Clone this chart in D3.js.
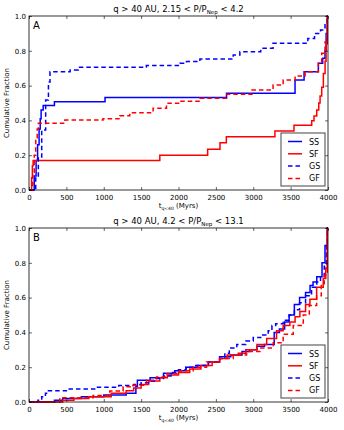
<!DOCTYPE html>
<html>
<head>
<meta charset="utf-8">
<script src="https://cdn.jsdelivr.net/npm/d3@7"></script>
<style>
  body { margin: 0; background: #fff; }
  svg text { font-family: "DejaVu Sans", sans-serif; }
</style>
</head>
<body>
<svg id="chart" width="344" height="430"></svg>
<script>
// tick labels
var xTicks = [0, 500, 1000, 1500, 2000, 2500, 3000, 3500, 4000];
var yTicks = [0, 0.2, 0.4, 0.6, 0.8, 1.0];
var seriesNames = ["SS", "SF", "GS", "GF"];
var panelLetters = ["A", "B"];
var panelTitles = [["q > 40 AU, 2.15 < P/P", "Nep", " < 4.2"],
                   ["q > 40 AU, 4.2 < P/P", "Nep", " < 13.1"]];

// panel A (times in Myr, cumulative fraction)
var tSS_A = [0, 45, 70, 95, 115, 135, 150, 162, 190, 340, 1017, 2643, 3559, 3680, 3871, 3929, 3960, 3975, 3990, 4000];
var fSS_A = [0, 0, 0.08, 0.17, 0.26, 0.35, 0.41, 0.46, 0.485, 0.507, 0.532, 0.556, 0.632, 0.68, 0.728, 0.757, 0.8, 0.9, 1.0, 1.0];
var tSF_A = [0, 25, 35, 45, 55, 1750, 2390, 2555, 2640, 3290, 3545, 3782, 3813, 3849, 3876, 3894, 3916, 3938, 3961, 3974, 3992, 4000];
var fSF_A = [0, 0, 0.07, 0.14, 0.17, 0.2, 0.234, 0.272, 0.306, 0.339, 0.372, 0.398, 0.425, 0.46, 0.5, 0.54, 0.59, 0.67, 0.74, 0.84, 1.0, 1.0];
var tGS_A = [0, 60, 90, 125, 170, 223, 260, 281, 550, 660, 1570, 2018, 2107, 2286, 2732, 2821, 3100, 3265, 3730, 3820, 3900, 3960, 3990, 4000];
var fGS_A = [0, 0, 0.08, 0.19, 0.345, 0.517, 0.62, 0.68, 0.69, 0.705, 0.715, 0.728, 0.738, 0.753, 0.776, 0.795, 0.814, 0.843, 0.87, 0.9, 0.92, 0.95, 1.0, 1.0];
var tGF_A = [0, 30, 50, 70, 90, 110, 125, 480, 990, 1214, 1348, 1660, 1839, 2018, 2286, 2643, 2983, 3265, 3400, 3560, 3693, 3871, 3916, 3960, 3990, 4000];
var fGF_A = [0, 0, 0.1, 0.2, 0.3, 0.35, 0.383, 0.402, 0.41, 0.427, 0.444, 0.47, 0.498, 0.51, 0.527, 0.55, 0.575, 0.603, 0.632, 0.655, 0.68, 0.728, 0.786, 0.85, 1.0, 1.0];

// panel B
var tSS_B = [0, 300, 340, 450, 700, 1000, 1300, 1430, 1450, 1620, 1800, 1950, 2100, 2250, 2400, 2550, 2700, 2850, 2950, 3050, 3150, 3280, 3350, 3420, 3480, 3550, 3620, 3700, 3760, 3800, 3850, 3920, 3960, 3990, 4000];
var fSS_B = [0, 0, 0.01, 0.02, 0.03, 0.04, 0.05, 0.09, 0.125, 0.14, 0.165, 0.18, 0.2, 0.21, 0.23, 0.26, 0.27, 0.29, 0.3, 0.32, 0.33, 0.4, 0.42, 0.46, 0.5, 0.56, 0.6, 0.63, 0.67, 0.69, 0.72, 0.8, 0.9, 1.0, 1.0];
var tSF_B = [0, 400, 450, 600, 800, 1100, 1300, 1400, 1500, 1600, 1750, 1850, 2000, 2150, 2300, 2450, 2550, 2650, 2800, 2900, 3050, 3180, 3312, 3400, 3490, 3560, 3624, 3700, 3758, 3848, 3936, 3970, 3990, 4000];
var fSF_B = [0, 0, 0.01, 0.02, 0.03, 0.05, 0.065, 0.08, 0.1, 0.12, 0.14, 0.155, 0.17, 0.19, 0.21, 0.23, 0.25, 0.27, 0.28, 0.3, 0.33, 0.365, 0.41, 0.44, 0.46, 0.49, 0.52, 0.56, 0.59, 0.66, 0.71, 0.77, 1.0, 1.0];
var tGS_B = [0, 80, 120, 170, 220, 260, 500, 900, 1200, 1400, 1500, 1600, 1700, 1800, 1900, 2000, 2100, 2200, 2400, 2550, 2620, 2680, 2780, 2900, 3000, 3100, 3200, 3250, 3300, 3400, 3480, 3550, 3620, 3700, 3780, 3850, 3900, 3950, 3980, 3995, 4000];
var fGS_B = [0, 0, 0.01, 0.03, 0.05, 0.065, 0.075, 0.085, 0.095, 0.1, 0.11, 0.12, 0.135, 0.15, 0.17, 0.185, 0.2, 0.21, 0.23, 0.25, 0.28, 0.31, 0.33, 0.35, 0.37, 0.385, 0.41, 0.44, 0.45, 0.47, 0.5, 0.53, 0.57, 0.61, 0.66, 0.69, 0.72, 0.78, 0.9, 1.0, 1.0];
var tGF_B = [0, 350, 411, 857, 1080, 1259, 1393, 1571, 1705, 1839, 2018, 2196, 2375, 2553, 2732, 2911, 3089, 3268, 3400, 3535, 3669, 3750, 3848, 3910, 3950, 3990, 4000];
var fGF_B = [0, 0, 0.025, 0.038, 0.063, 0.087, 0.096, 0.125, 0.144, 0.163, 0.18, 0.2, 0.23, 0.25, 0.27, 0.29, 0.31, 0.34, 0.39, 0.44, 0.5, 0.555, 0.61, 0.68, 0.73, 1.0, 1.0];

var panelData = [
  [[tSS_A, fSS_A], [tSF_A, fSF_A], [tGS_A, fGS_A], [tGF_A, fGF_A]],
  [[tSS_B, fSS_B], [tSF_B, fSF_B], [tGS_B, fGS_B], [tGF_B, fGF_B]]
];

var colors = ["#0000ff", "#ff0000", "#0000ff", "#ff0000"];
var dashes = [null, null, "4.5,3", "4.5,3"];

var svg = d3.select("#chart");
var left = 29, right = 328;
var panelTops = [16, 228], panelH = 174;

var x = d3.scaleLinear().domain([0, 4000]).range([left, right]);

panelData.forEach(function(series, p) {
  var top = panelTops[p], bottom = top + panelH;
  var y = d3.scaleLinear().domain([0, 1]).range([bottom, top]);
  var g = svg.append("g");

  g.append("clipPath").attr("id", "clip" + p)
    .append("rect").attr("x", left).attr("y", top - 1)
    .attr("width", right - left).attr("height", panelH + 2);

  // curves
  var line = d3.line()
    .x(function(d) { return x(d[0]); })
    .y(function(d) { return y(d[1]); })
    .curve(d3.curveStepAfter);

  series.forEach(function(s, i) {
    var pts = s[0].map(function(t, k) { return [t, s[1][k]]; });
    g.append("path")
      .attr("d", line(pts))
      .attr("clip-path", "url(#clip" + p + ")")
      .attr("fill", "none")
      .attr("stroke", colors[i])
      .attr("stroke-width", 1.5)
      .attr("stroke-dasharray", dashes[i]);
  });

  // axes, ticks pointing in
  var xb = g.append("g").attr("transform", "translate(0," + bottom + ")")
    .call(d3.axisBottom(x).tickValues(xTicks).tickFormat(d3.format("d"))
      .tickSizeInner(-3).tickSizeOuter(0).tickPadding(5));
  var xt = g.append("g").attr("transform", "translate(0," + top + ")")
    .call(d3.axisTop(x).tickValues(xTicks).tickFormat("")
      .tickSizeInner(-3).tickSizeOuter(0));
  var yl = g.append("g").attr("transform", "translate(" + left + ",0)")
    .call(d3.axisLeft(y).tickValues(yTicks).tickFormat(d3.format(".1f"))
      .tickSizeInner(-3).tickSizeOuter(0).tickPadding(3));
  var yr = g.append("g").attr("transform", "translate(" + right + ",0)")
    .call(d3.axisRight(y).tickValues(yTicks).tickFormat("")
      .tickSizeInner(-3).tickSizeOuter(0));
  [xb, xt, yl, yr].forEach(function(a) {
    a.select(".domain").remove();
    a.selectAll("text").attr("font-size", 7).attr("fill", "#000")
      .style("font-family", "'DejaVu Sans', sans-serif");
    a.selectAll("line").attr("stroke", "#000").attr("stroke-width", 0.6);
  });

  g.append("rect")
    .attr("x", left).attr("y", top)
    .attr("width", right - left).attr("height", panelH)
    .attr("fill", "none").attr("stroke", "#000").attr("stroke-width", 0.8);

  // panel letter
  g.append("text").attr("x", left + 4).attr("y", top + 13)
    .attr("font-size", 10).text(panelLetters[p]);

  // title
  var title = g.append("text")
    .attr("x", (left + right) / 2).attr("y", top - 4)
    .attr("text-anchor", "middle").attr("font-size", 8.5);
  title.append("tspan").text(panelTitles[p][0]);
  title.append("tspan").attr("font-size", 5.5).attr("dy", 1.5).text(panelTitles[p][1]);
  title.append("tspan").attr("dy", -1.5).text(panelTitles[p][2]);

  // x label
  var xl = g.append("text")
    .attr("x", (left + right) / 2).attr("y", bottom + 18)
    .attr("text-anchor", "middle").attr("font-size", 7);
  xl.append("tspan").text("t");
  xl.append("tspan").attr("font-size", 4.5).attr("dy", 1.5).text("q<40");
  xl.append("tspan").attr("dy", -1.5).text(" (Myrs)");

  // y label
  g.append("text")
    .attr("transform", "translate(9," + (top + panelH / 2) + ") rotate(-90)")
    .attr("text-anchor", "middle").attr("font-size", 7)
    .text("Cumulative Fraction");

  // legend
  var lx = 281, ly = top + 117, lw = 44, lh = 53;
  var leg = g.append("g");
  leg.append("rect").attr("x", lx).attr("y", ly).attr("width", lw).attr("height", lh)
    .attr("fill", "#fff").attr("stroke", "#555").attr("stroke-width", 1.1);
  seriesNames.forEach(function(name, i) {
    var ry = ly + 8.5 + i * 12.3;
    leg.append("line").attr("x1", lx + 7).attr("x2", lx + 21)
      .attr("y1", ry).attr("y2", ry)
      .attr("stroke", colors[i]).attr("stroke-width", 1.5)
      .attr("stroke-dasharray", dashes[i]);
    leg.append("text").attr("x", lx + 28).attr("y", ry + 3)
      .attr("font-size", 8).text(name);
  });
});
</script>
</body>
</html>
